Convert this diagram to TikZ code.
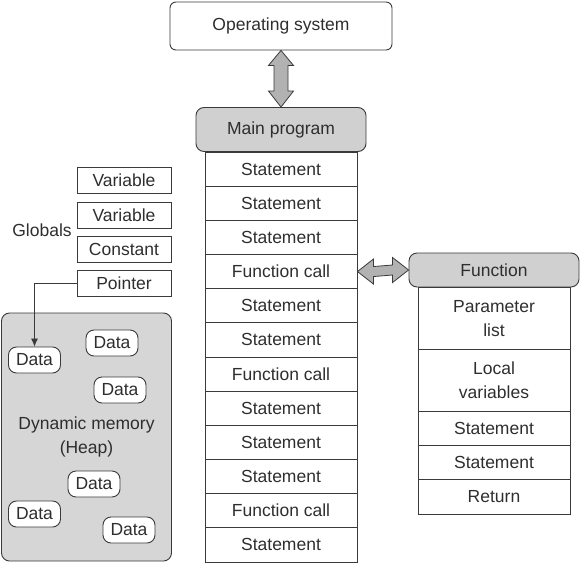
\documentclass[tikz,border=0pt]{standalone}
\usepackage{fontspec}
\setmainfont{Liberation Sans}
\usetikzlibrary{positioning,calc,arrows.meta}

\definecolor{lineg}{HTML}{3A3A3A}
\definecolor{headg}{HTML}{D0D0D0}
\definecolor{heapg}{HTML}{D6D6D6}
\definecolor{arrg}{HTML}{B2B2B2}
\definecolor{textg}{HTML}{2E2E2E}

\tikzset{
  cell/.style={draw=lineg, line width=0.9pt, minimum width=152pt, minimum height=34.17pt,
    inner sep=0pt, anchor=north, align=center},
  headbox/.style={draw=lineg, line width=0.9pt, fill=headg, rounded corners=8pt, inner sep=0pt},
  gvar/.style={draw=lineg, line width=0.9pt, minimum width=94pt, minimum height=26pt, inner sep=0pt},
  databox/.style={draw=lineg, line width=0.9pt, fill=white, rounded corners=8pt,
    minimum width=52pt, minimum height=26pt, inner sep=0pt},
  fatarr/.style={draw=lineg, line width=0.8pt, fill=arrg, line join=miter},
  ptrline/.style={draw=lineg, line width=0.8pt, -{Latex[length=8pt,width=7pt]}}
}

\begin{document}
\begin{tikzpicture}[x=1pt, y=-1pt,
    every node/.style={font=\fontsize{17.5}{24}\selectfont, text=textg}]
  \useasboundingbox (0,0) rectangle (580,562);

  % operating system and main program
  \node[draw=lineg, line width=0.9pt, rounded corners=6pt, minimum width=222pt,
    minimum height=48pt, inner sep=0pt] (os) at (281,26) {Operating system};
  \node[headbox, minimum width=170pt, minimum height=44pt] (main) at (281,129.5) {Main program};
  \foreach \t [count=\i] in {Statement,Statement,Statement,Function call,Statement,Statement,
      Function call,Statement,Statement,Statement,Function call,Statement}
    \node[cell] (s\i) at (281,{151.5+34.17*(\i-1)}) {\t};

  \draw[fatarr] (os.south) -- ++(12.5,15) -- ++(-5.5,0) -- ($(main.north)+(7,-16)$)
    -- ++(5.5,0) -- (main.north) -- ++(-12.5,-16) -- ++(5.5,0)
    -- ($(os.south)+(-7,15)$) -- ++(-5.5,0) -- cycle;

  % function
  \node[headbox, minimum width=170pt, minimum height=34pt] (func) at (494,270) {Function};
  \node[cell, minimum height=62pt] (f1) at (494,287) {Parameter\\list};
  \node[cell, minimum height=62pt] (f2) at (494,349) {Local\\variables};
  \node[cell] (f3) at (494,411) {Statement};
  \node[cell] (f4) at (494,445.2) {Statement};
  \node[cell] (f5) at (494,479.4) {Return};

  \draw[fatarr] (s4.east) -- ++(16,-12.5) -- ++(0,7.5) -- ($(func.west)+(-16,-5)$)
    -- ++(0,-7.5) -- (func.west) -- ++(-16,12.5) -- ++(0,-7.5)
    -- ($(s4.east)+(16,5)$) -- ++(0,7.5) -- cycle;

  % globals
  \node (glob) at (42,230) {Globals};
  \node[gvar] (v1) at (124,180) {Variable};
  \node[gvar] (v2) at (124,215) {Variable};
  \node[gvar] (v3) at (124,249) {Constant};
  \node[gvar] (v4) at (124,283) {Pointer};

  % heap
  \node[draw=lineg, line width=0.9pt, fill=heapg, rounded corners=8pt, minimum width=170pt,
    minimum height=248pt, inner sep=0pt, align=center] (heap) at (86.5,437) {Dynamic memory\\(Heap)};
  \node[databox] (d1) at (34.5,360) {Data};
  \node[databox] (d2) at (112,343) {Data};
  \node[databox] (d3) at (120,390) {Data};
  \node[databox] (d4) at (94,484) {Data};
  \node[databox] (d5) at (34.5,514) {Data};
  \node[databox] (d6) at (129,530) {Data};

  \draw[ptrline] (v4.west) -| (d1.north);
\end{tikzpicture}
\end{document}
